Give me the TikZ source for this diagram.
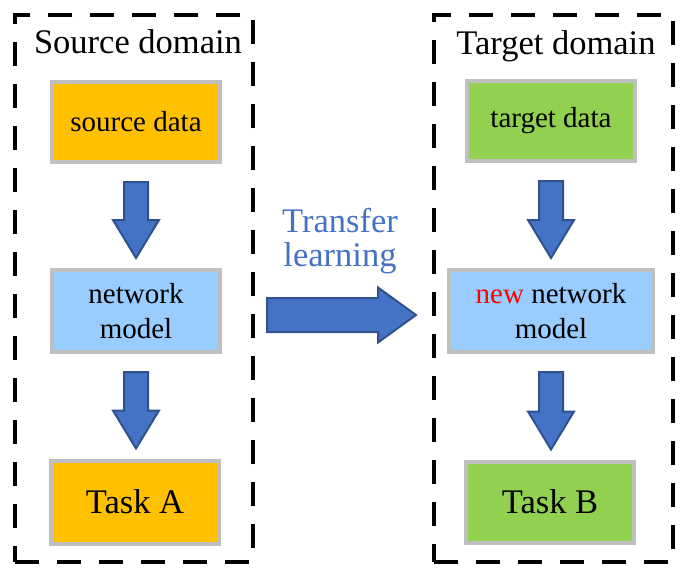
\documentclass[tikz,border=0pt]{standalone}
\usepackage{fontspec}
\setmainfont{Liberation Serif}
\usetikzlibrary{calc}

\definecolor{srcorange}{HTML}{FFC000}
\definecolor{netblue}{HTML}{99CCFF}
\definecolor{tgtgreen}{HTML}{92D050}
\definecolor{arrowfill}{HTML}{4472C4}
\definecolor{arrowline}{HTML}{2F528F}
\definecolor{textblue}{HTML}{4472C4}

\newcommand{\boxfont}{\fontsize{29}{35}\selectfont}
\newcommand{\bigfont}{\fontsize{34.5}{34}\selectfont}

\tikzset{
    databox/.style={draw=gray!50, line width=4pt, minimum width=168pt, minimum height=80pt,
        inner sep=0pt, align=center, font=\boxfont},
    domainframe/.style={draw=black, line width=4pt, dash pattern=on 24pt off 18pt},
    blockarrow/.style={fill=arrowfill, draw=arrowline, line width=2pt, line join=miter}
}

% flecha gruesa hacia abajo entre dos cajas
\newcommand{\downblock}[2]{%
    \draw[blockarrow] let \p1=($(#1.south)+(0,18)$), \p2=($(#2.north)+(0,-10)$) in
        (\x1-12pt,\y1) -- (\x1+12pt,\y1) -- (\x1+12pt,\y2+38pt) -- (\x1+23pt,\y2+38pt)
        -- (\x1,\y2) -- (\x1-23pt,\y2+38pt) -- (\x1-12pt,\y2+38pt) -- cycle;}

\begin{document}
\begin{tikzpicture}[x=1pt, y=-1pt]
\useasboundingbox (0,0) rectangle (691,579);

% =============================================
% Source domain
% =============================================
\node[domainframe, minimum width=238pt, minimum height=547pt] (srcframe) at (134,288.5) {};
\node[anchor=base, font=\bigfont] (srctitle) at (138,53) {Source domain};

\node[databox, fill=srcorange] (src) at (136,122) {source data};
\node[databox, fill=netblue, minimum height=82pt] (srcnet) at (136,311) {network\\model};
\node[databox, fill=srcorange, minimum height=83pt, font=\bigfont] (taskA) at (135,502) {Task A};

\downblock{src}{srcnet}
\downblock{srcnet}{taskA}

% =============================================
% Target domain
% =============================================
\node[domainframe, minimum width=239pt, minimum height=547pt] (tgtframe) at (553.5,288.5) {};
\node[anchor=base, font=\bigfont] (tgttitle) at (556,54) {Target domain};

\node[databox, fill=tgtgreen] (tgt) at (551,121) {target data};
\node[databox, fill=netblue, minimum width=204pt, minimum height=82pt] (tgtnet) at (551,311) {\textcolor{red}{new} network\\model};
\node[databox, fill=tgtgreen, minimum height=81pt, font=\bigfont] (taskB) at (550,502) {Task B};

\downblock{tgt}{tgtnet}
\downblock{tgtnet}{taskB}

% =============================================
% Transfer learning
% =============================================
\node[align=center, text=textblue, font=\bigfont] (transfer) at (340,241) {Transfer\\learning};

\draw[blockarrow] let \p1=($(srcframe.east)+(12,26.5)$), \p2=($(tgtframe.west)+(-16,26.5)$) in
    (\x1,\y1+17pt) -- (\x2-38pt,\y1+17pt) -- (\x2-38pt,\y1+27.5pt) -- (\x2,\y1)
    -- (\x2-38pt,\y1-27.5pt) -- (\x2-38pt,\y1-17pt) -- (\x1,\y1-17pt) -- cycle;

\end{tikzpicture}
\end{document}
